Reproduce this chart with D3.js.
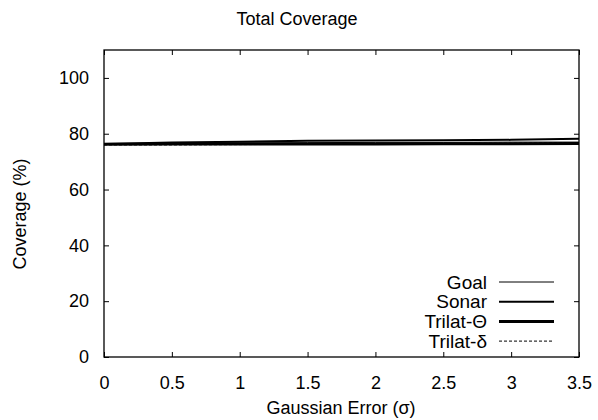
<!DOCTYPE html>
<html lang="en">
<head>
<meta charset="utf-8">
<script src="https://d3js.org/d3.v7.min.js"></script>
<style>
  body { margin:0; background:#fff; }
  svg { font-family:"Liberation Sans", Arial, sans-serif; }
  .tick text { font-size:18px; fill:#000; }
</style>
<title>Total Coverage</title>
</head>
<body>
<script>
// values
let sigma = [0, 0.5, 1, 1.5, 2, 2.5, 3, 3.5];
let goal = [76.4, 76.6, 76.7, 76.8, 76.9, 76.9, 77.0, 77.0];
let sonar = [76.3, 76.9, 77.1, 77.5, 77.6, 77.7, 77.8, 78.2];
let trilatTheta = [76.2, 76.3, 76.3, 76.3, 76.3, 76.4, 76.4, 76.5];
let trilatDelta = [76.0, 76.0, 76.1, 76.2, 76.3, 76.5, 76.6, 76.8];
let xTicks = [0, 0.5, 1, 1.5, 2, 2.5, 3, 3.5];
let yTicks = [0, 20, 40, 60, 80, 100];

let series = [
  {name:"Goal", values:goal, width:1, dash:null},
  {name:"Sonar", values:sonar, width:2, dash:null},
  {name:"Trilat-\u0398", values:trilatTheta, width:3, dash:null},
  {name:"Trilat-\u03b4", values:trilatDelta, width:1, dash:"3,2"}
];

let W = 598, H = 420;
let m = {left:104, right:19, top:50, bottom:63};

let svg = d3.select("body").append("svg")
  .attr("width", W).attr("height", H);

let x = d3.scaleLinear().domain([0, 3.5]).range([m.left, W - m.right]);
let y = d3.scaleLinear().domain([0, 110]).range([H - m.bottom, m.top]);

// axes, ticks inward, mirrored on top/right
let axBottom = svg.append("g")
  .attr("transform", "translate(0," + (H - m.bottom) + ")")
  .call(d3.axisBottom(x).tickValues(xTicks).tickSize(-5).tickPadding(19).tickFormat(d3.format("")));
let axTop = svg.append("g")
  .attr("transform", "translate(0," + m.top + ")")
  .call(d3.axisTop(x).tickValues(xTicks).tickSize(-5).tickFormat(""));
let axLeft = svg.append("g")
  .attr("transform", "translate(" + m.left + ",0)")
  .call(d3.axisLeft(y).tickValues(yTicks).tickSize(-5).tickPadding(15));
let axRight = svg.append("g")
  .attr("transform", "translate(" + (W - m.right) + ",0)")
  .call(d3.axisRight(y).tickValues(yTicks).tickSize(-5).tickFormat(""));

[axBottom, axTop, axLeft, axRight].forEach(g => {
  g.select(".domain").remove();
  g.selectAll(".tick line").attr("stroke", "#000");
});

svg.append("rect")
  .attr("x", m.left).attr("y", m.top)
  .attr("width", W - m.left - m.right).attr("height", H - m.top - m.bottom)
  .attr("fill", "none").attr("stroke", "#000").attr("stroke-width", 1.3);

let line = d3.line().x((d, i) => x(sigma[i])).y(d => y(d));

svg.append("g").selectAll("path")
  .data(series)
  .enter()
  .append("path")
  .attr("fill", "none")
  .attr("stroke", "#000")
  .attr("stroke-width", d => d.width)
  .attr("stroke-dasharray", d => d.dash)
  .attr("d", d => line(d.values));

// legend
let leg = svg.append("g").selectAll("g")
  .data(series)
  .enter()
  .append("g")
  .attr("transform", (d, i) => "translate(0," + (282 + i * 19.7) + ")");
leg.append("text")
  .attr("x", 487).attr("y", 0).attr("dy", "0.35em")
  .attr("text-anchor", "end")
  .style("font-size", "19px")
  .text(d => d.name);
leg.append("line")
  .attr("x1", 499).attr("x2", 554)
  .attr("stroke", "#000")
  .attr("stroke-width", d => d.width)
  .attr("stroke-dasharray", d => d.dash);

svg.append("text")
  .attr("x", 297).attr("y", 25)
  .attr("text-anchor", "middle")
  .style("font-size", "18px")
  .text("Total Coverage");

svg.append("text")
  .attr("x", 341).attr("y", 414)
  .attr("text-anchor", "middle")
  .style("font-size", "18px")
  .text("Gaussian Error (\u03c3)");

svg.append("text")
  .attr("transform", "translate(26,214) rotate(-90)")
  .attr("text-anchor", "middle")
  .style("font-size", "18px")
  .text("Coverage (%)");
</script>
</body>
</html>
